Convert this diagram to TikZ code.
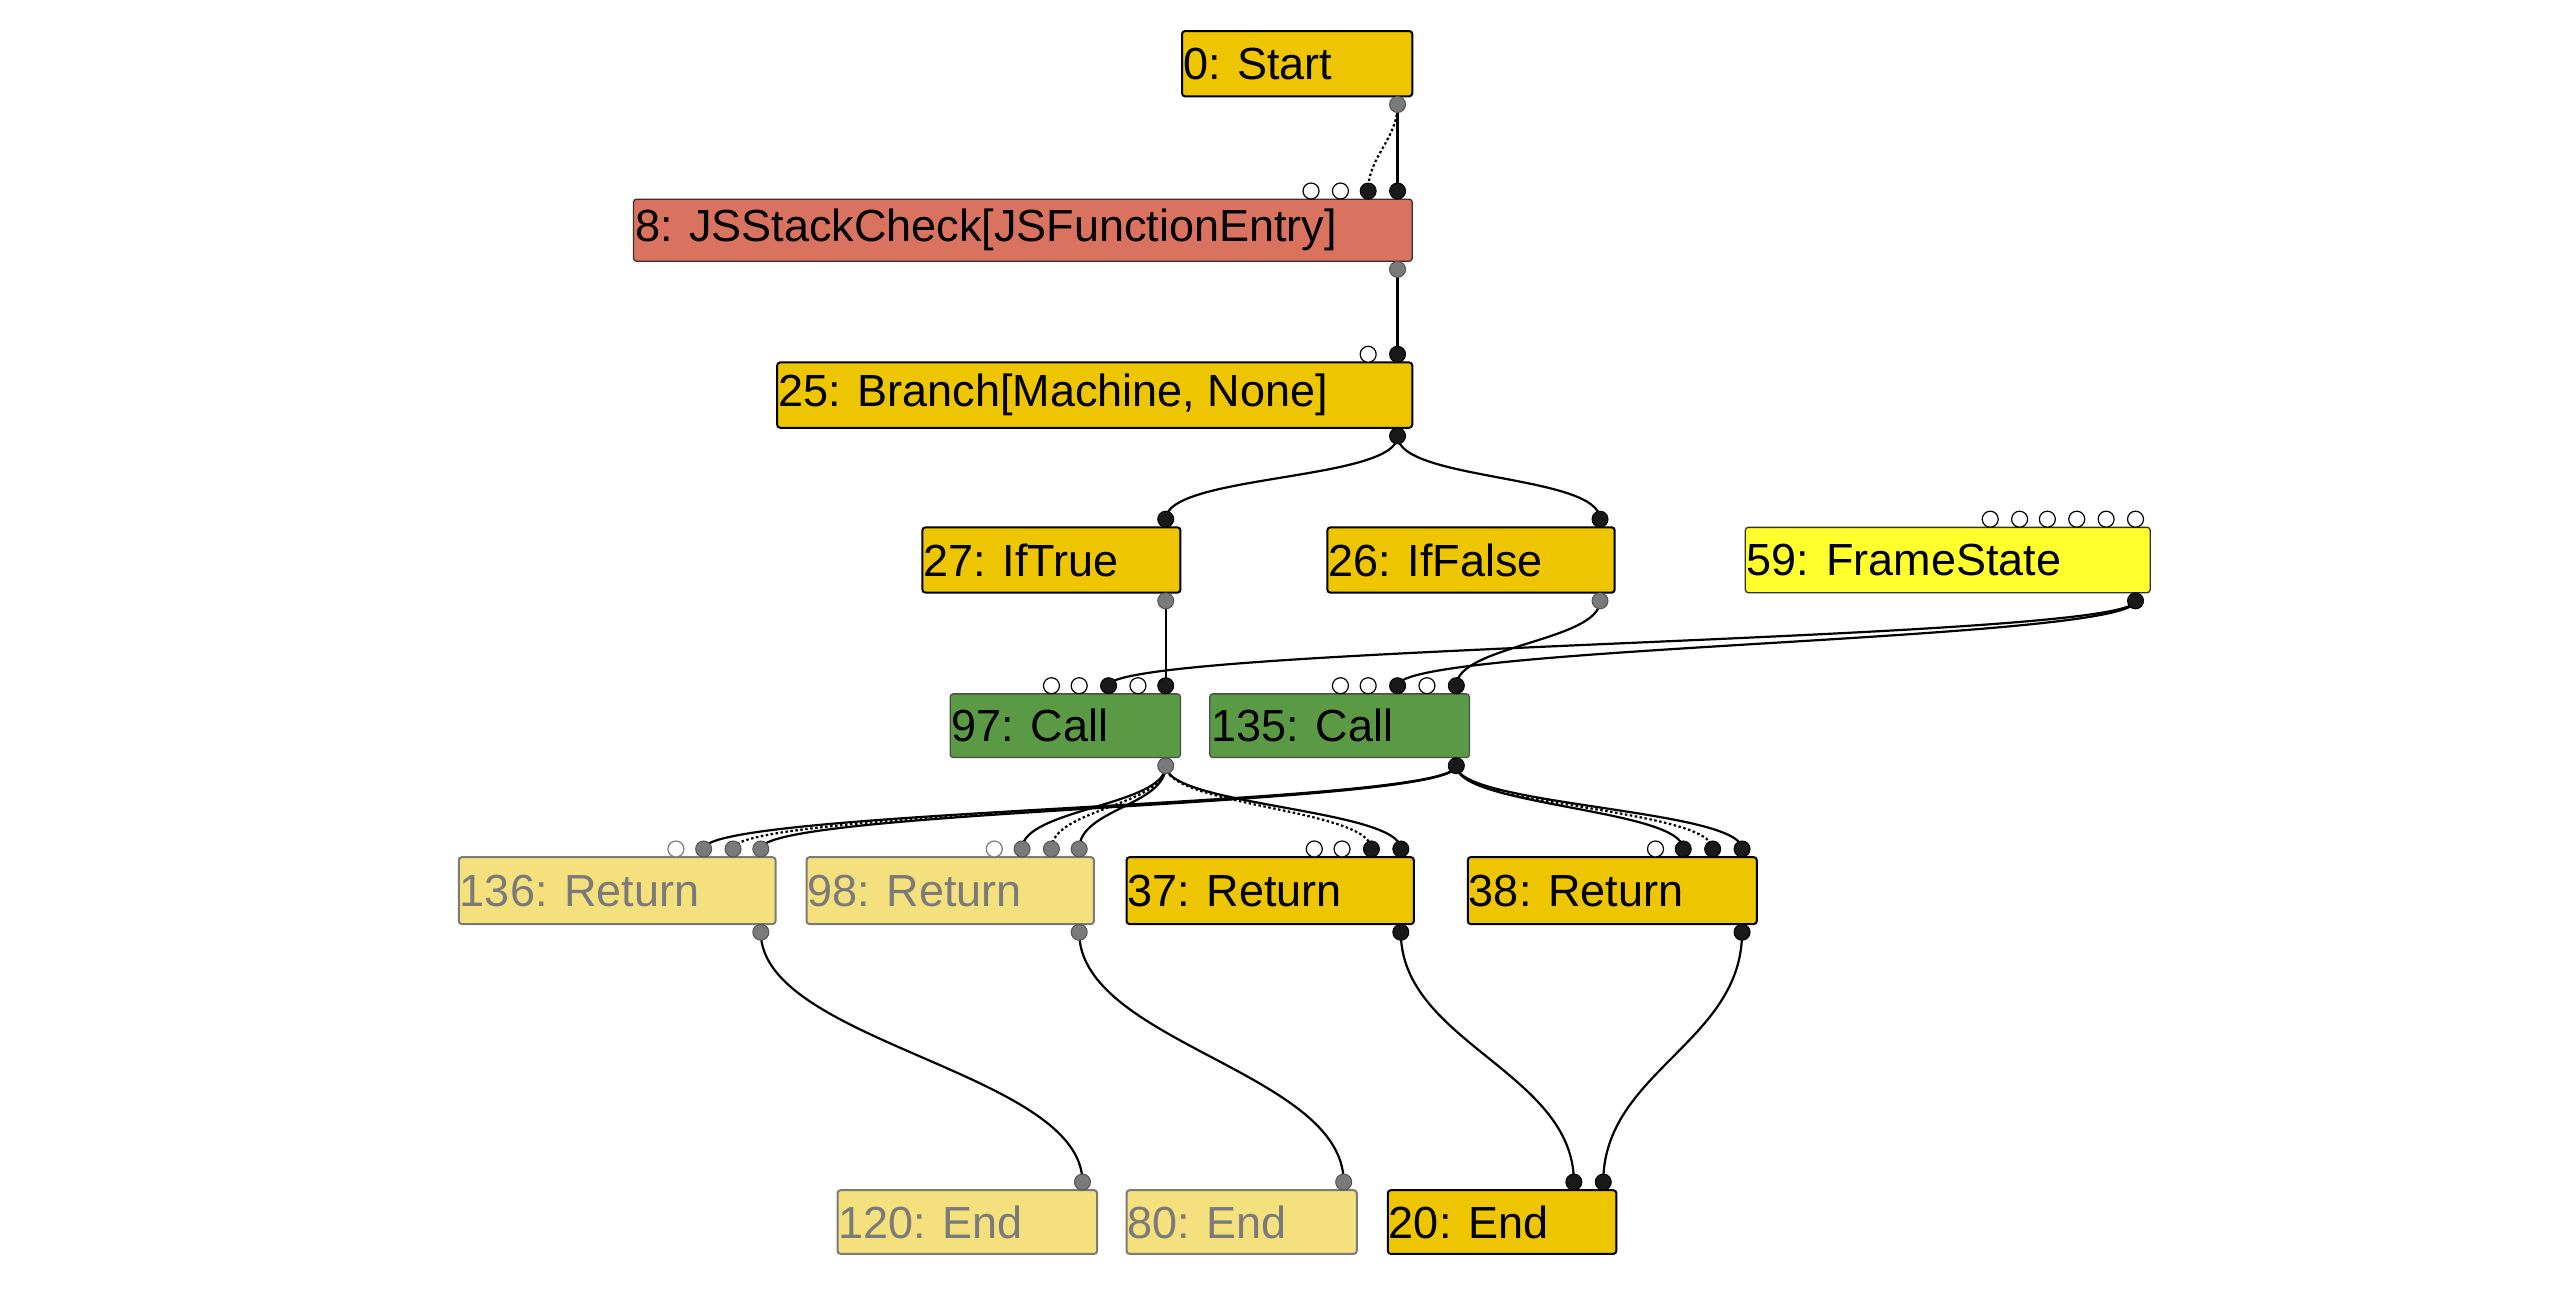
\documentclass[tikz,border=0pt]{standalone}
\usepackage{fontspec}
\setmainfont{Liberation Sans}
\usetikzlibrary{fit}
\definecolor{yel}{HTML}{EDC500}
\definecolor{red}{HTML}{D9725F}
\definecolor{grn}{HTML}{5B9A45}
\definecolor{fs}{HTML}{FFFF2E}
\definecolor{fade}{HTML}{F5E07E}
\definecolor{gr}{HTML}{7A7A7A}
\begin{document}
\begin{tikzpicture}[x=1.633pt,y=-1.633pt,
  box/.style={draw=black,line width=2pt,rounded corners=3pt,inner sep=0pt},
  fbox/.style={draw=gr,line width=2pt,rounded corners=3pt,inner sep=0pt,fill=fade},
  lab/.style={anchor=west,inner sep=0pt,font=\fontsize{45}{50}\selectfont},
  flab/.style={lab,text=gr},
  e/.style={line width=2.2pt,black},
  d/.style={e,dash pattern=on 2.5pt off 2.5pt},
  pf/.style={circle,fill=black!90,draw=black,line width=1pt,minimum size=16pt,inner sep=0pt},
  pg/.style={circle,fill=gr,draw=gr!70!black,line width=1pt,minimum size=16pt,inner sep=0pt},
  po/.style={circle,fill=white,draw=black,line width=1.2pt,minimum size=16pt,inner sep=0pt},
  pog/.style={circle,fill=white,draw=gr,line width=1.2pt,minimum size=16pt,inner sep=0pt}]
\useasboundingbox[fill=white] (0,0) rectangle (1568,796);
% boxes
\newcommand{\mybox}[7]{\node[#6,fit={(#2,#3)(#4,#5)}] (#1) {};}
\mybox{n0}{724}{19}{865}{59}{box,fill=yel}{}
\mybox{n8}{388}{122}{865}{160}{box,fill=red,draw=black!80,line width=1.3pt}{}
\mybox{n25}{476}{222}{865}{262}{box,fill=yel}{}
\mybox{n27}{565}{323}{723}{363}{box,fill=yel}{}
\mybox{n26}{813}{323}{989}{363}{box,fill=yel}{}
\mybox{n59}{1069}{323}{1317}{363}{box,fill=fs,draw=black!80,line width=1.3pt}{}
\mybox{n97}{582}{425}{723}{464}{box,fill=grn,draw=black!70,line width=1.3pt}{}
\mybox{n135}{741}{425}{900}{464}{box,fill=grn,draw=black!70,line width=1.3pt}{}
\mybox{n136}{281}{525}{475}{566}{fbox}{}
\mybox{n98}{494}{525}{670}{566}{fbox}{}
\mybox{n37}{690}{525}{866}{566}{box,fill=yel}{}
\mybox{n38}{899}{525}{1076}{566}{box,fill=yel}{}
\mybox{n120}{513}{729}{672}{768}{fbox}{}
\mybox{n80}{690}{729}{831}{768}{fbox}{}
\mybox{n20}{850}{729}{990}{768}{box,fill=yel}{}
\node[lab] (t0) at ([xshift=2pt]n0.west) {0: Start};
\node[lab] (t8) at ([xshift=2pt]n8.west) {8: JSStackCheck[JSFunctionEntry]};
\node[lab] (t25) at ([xshift=2pt]n25.west) {25: Branch[Machine, None]};
\node[lab] (t27) at ([xshift=2pt]n27.west) {27: IfTrue};
\node[lab] (t26) at ([xshift=2pt]n26.west) {26: IfFalse};
\node[lab] (t59) at ([xshift=2pt]n59.west) {59: FrameState};
\node[lab] (t97) at ([xshift=2pt]n97.west) {97: Call};
\node[lab] (t135) at ([xshift=2pt]n135.west) {135: Call};
\node[flab] (t136) at ([xshift=2pt]n136.west) {136: Return};
\node[flab] (t98) at ([xshift=2pt]n98.west) {98: Return};
\node[lab] (t37) at ([xshift=2pt]n37.west) {37: Return};
\node[lab] (t38) at ([xshift=2pt]n38.west) {38: Return};
\node[flab] (t120) at ([xshift=2pt]n120.west) {120: End};
\node[flab] (t80) at ([xshift=2pt]n80.west) {80: End};
\node[lab] (t20) at ([xshift=2pt]n20.west) {20: End};
% port coordinates
\coordinate (o0) at (856,64);
\coordinate (o8) at (856,165);
\coordinate (o25) at (856,267);
\coordinate (o27) at (714,368);
\coordinate (o26) at (980,368);
\coordinate (o59) at (1308,368);
\coordinate (o97) at (714,469);
\coordinate (o135) at (892,469);
\coordinate (o136) at (466,571);
\coordinate (o98) at (661,571);
\coordinate (o37) at (858,571);
\coordinate (o38) at (1067,571);
\foreach \n/\x in {a/803,b/821,c/838,d/856} \coordinate (i8\n) at (\x,117);
\foreach \n/\x in {a/838,b/856} \coordinate (i25\n) at (\x,217);
\coordinate (i27) at (714,318);
\coordinate (i26) at (980,318);
\foreach \n/\x in {a/1219,b/1237,c/1254,d/1272,e/1290,f/1308} \coordinate (i59\n) at (\x,318);
\foreach \n/\x in {a/644,b/661,c/679,d/697,e/714} \coordinate (i97\n) at (\x,420);
\foreach \n/\x in {a/821,b/838,c/856,d/874,e/892} \coordinate (i135\n) at (\x,420);
\foreach \n/\x in {a/414,b/431,c/449,d/466} \coordinate (i136\n) at (\x,520);
\foreach \n/\x in {a/609,b/626,c/644,d/661} \coordinate (i98\n) at (\x,520);
\foreach \n/\x in {a/805,b/822,c/840,d/858} \coordinate (i37\n) at (\x,520);
\foreach \n/\x in {a/1014,b/1031,c/1049,d/1067} \coordinate (i38\n) at (\x,520);
\coordinate (i120) at (663,724);
\coordinate (i80) at (823,724);
\coordinate (i20a) at (964,724);
\coordinate (i20b) at (982,724);
% edges
\newcommand{\cv}[4]{\draw[#1] (#2) .. controls ([yshift=#4]#2) and ([yshift=-#4]#3) .. (#3);}
\cv{d}{o0}{i8c}{-35}
\draw[e] (o0) -- (i8d);
\draw[e] (o8) -- (i25b);
\cv{e}{o25}{i27}{-45}
\cv{e}{o25}{i26}{-45}
\draw[e] (o27) -- (i97e);
\cv{e}{o26}{i135e}{-40}
\cv{e}{o59}{i97c}{-40}
\cv{e}{o59}{i135c}{-40}
\cv{e}{o97}{i98b}{-40}
\cv{d}{o97}{i98c}{-40}
\cv{e}{o97}{i98d}{-40}
\cv{d}{o97}{i37c}{-40}
\cv{e}{o97}{i37d}{-40}
\cv{e}{o135}{i136b}{-40}
\cv{d}{o135}{i136c}{-40}
\cv{e}{o135}{i136d}{-40}
\cv{e}{o135}{i38b}{-40}
\cv{d}{o135}{i38c}{-40}
\cv{e}{o135}{i38d}{-40}
\cv{e}{o136}{i120}{-110}
\cv{e}{o98}{i80}{-110}
\cv{e}{o37}{i20a}{-110}
\cv{e}{o38}{i20b}{-110}
% ports
\foreach \p in {o0,o8,o27,o26,o97,o136,o98} \node[pg] at (\p) {};
\foreach \p in {o25,o59,o135,o37,o38} \node[pf] at (\p) {};
\foreach \p in {i8a,i8b,i25a,i59a,i59b,i59c,i59d,i59e,i59f,i97a,i97b,i97d,i135a,i135b,i135d,i37a,i37b,i38a} \node[po] at (\p) {};
\foreach \p in {i8c,i8d,i25b,i27,i26,i97c,i97e,i135c,i135e,i37c,i37d,i38b,i38c,i38d,i20a,i20b} \node[pf] at (\p) {};
\foreach \p in {i136a,i98a} \node[pog] at (\p) {};
\foreach \p in {i136b,i136c,i136d,i98b,i98c,i98d,i120,i80} \node[pg] at (\p) {};
\end{tikzpicture}
\end{document}
